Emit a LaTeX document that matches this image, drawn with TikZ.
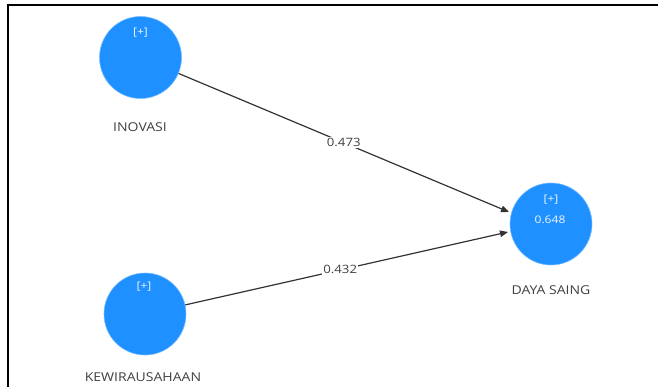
\documentclass[tikz,border=0pt]{standalone}
\usepackage{fontspec}
\setmainfont{Open Sans}[FakeStretch=1.15]
\usetikzlibrary{arrows.meta}
\definecolor{lvblue}{RGB}{30,144,255}
\definecolor{lbl}{RGB}{65,65,65}
\tikzset{
  latent/.style={circle, fill=lvblue, draw=lvblue!60, line width=0.6pt, minimum size=82pt, inner sep=0pt},
  vname/.style={text=lbl, font=\fontsize{12.2}{14}\selectfont, inner sep=1pt},
  inner/.style={text=white!92!lvblue, font=\fontsize{10.5}{12}\selectfont, inner sep=0pt},
  path/.style={draw=black!80, line width=1.2pt, -{Triangle[length=8pt,width=6.5pt]}},
  coef/.style={fill=white, text=lbl, font=\fontsize{11.5}{13}\selectfont, inner sep=1.2pt},
}
\begin{document}
\begin{tikzpicture}[x=1pt,y=-1pt]
\useasboundingbox (0,0) rectangle (658,387);
\fill[white] (0,0) rectangle (658,387);
\draw[line width=2pt, black] (8,387) -- (8,5) -- (658,5);
\node[latent] (ino) at (140.5,57.5) {};
\node[latent] (kew) at (145,314) {};
\node[latent] (day) at (551,224) {};
\node[inner] (inoplus) at (140.5,33) {[+]};
\node[inner] (kewplus) at (144,287) {[+]};
\node[inner] (dayplus) at (551,200) {[+]};
\node[inner] (dayr) at (550,219.5) {0.648};
\node[vname] (inolbl) at (140,127) {INOVASI};
\node[vname] (kewlbl) at (143,377) {KEWIRAUSAHAAN};
\node[vname] (daylbl) at (551,290) {DAYA SAING};
\coordinate (t1) at (509,212);
\coordinate (t2) at (508,232);
\draw[path] (ino) -- node[coef, pos=0.5] {0.473} (t1);
\draw[path] (kew) -- node[coef, pos=0.48] {0.432} (t2);
\end{tikzpicture}
\end{document}
